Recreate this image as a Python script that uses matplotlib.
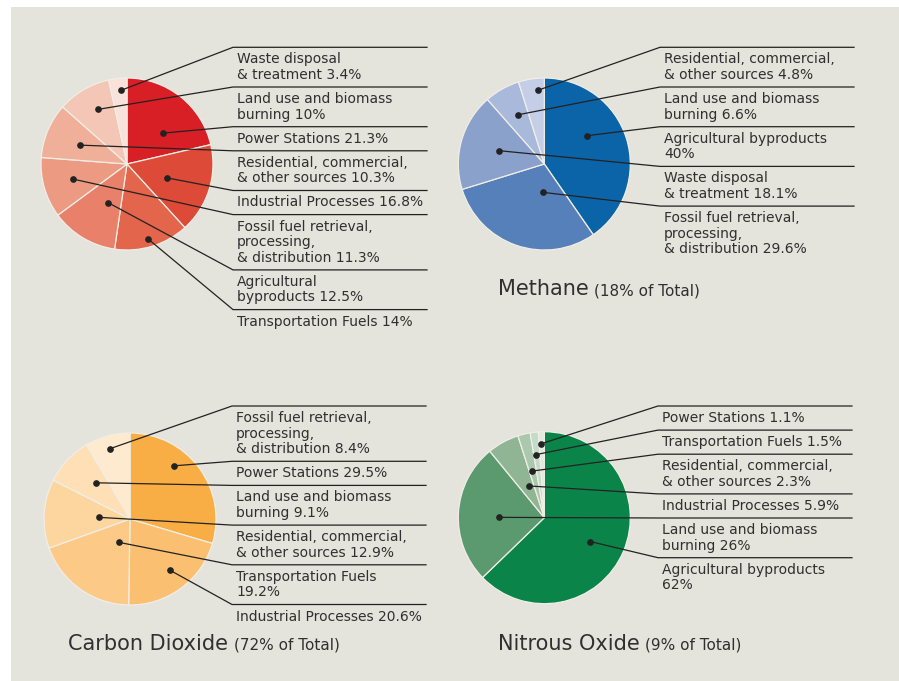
import numpy as np
import matplotlib
matplotlib.use("Agg")
import matplotlib.pyplot as plt

# 数据：每种气体的来源（按饼图顺时针顺序）和百分比
all_names = ["Power Stations", "Industrial Processes", "Transportation Fuels",
             "Agricultural\nbyproducts", "Fossil fuel retrieval,\nprocessing,\n& distribution",
             "Residential, commercial,\n& other sources", "Land use and biomass\nburning",
             "Waste disposal\n& treatment"]
all_values = [21.3, 16.8, 14, 12.5, 11.3, 10.3, 10, 3.4]
all_order = [7, 6, 0, 5, 1, 4, 3, 2]

ch4_names = ["Agricultural byproducts\n", "Fossil fuel retrieval,\nprocessing,\n& distribution",
             "Waste disposal\n& treatment", "Land use and biomass\nburning",
             "Residential, commercial,\n& other sources"]
ch4_values = [40, 29.6, 18.1, 6.6, 4.8]
ch4_order = [4, 3, 0, 2, 1]

co2_names = ["Power Stations", "Industrial Processes", "Transportation Fuels\n",
             "Residential, commercial,\n& other sources", "Land use and biomass\nburning",
             "Fossil fuel retrieval,\nprocessing,\n& distribution"]
co2_values = [29.5, 20.6, 19.2, 12.9, 9.1, 8.4]
co2_order = [5, 0, 4, 3, 2, 1]

n2o_names = ["Agricultural byproducts\n", "Land use and biomass\nburning", "Industrial Processes",
             "Residential, commercial,\n& other sources", "Transportation Fuels", "Power Stations"]
n2o_values = [62, 26, 5.9, 2.3, 1.5, 1.1]
n2o_order = [5, 4, 3, 2, 1, 0]

titles = [None, ("Methane", "(18% of Total)"), ("Carbon Dioxide", "(72% of Total)"),
          ("Nitrous Oxide", "(9% of Total)")]

# 颜色
reds = ["#d81f26", "#dd4a38", "#e3654b", "#e8806a", "#ec9a82", "#efaf98", "#f3c6b6", "#f8e2da"]
blues = ["#0b64a8", "#5580ba", "#8aa1cc", "#a8b9dc", "#c4cfe7"]
oranges = ["#f8ae45", "#fbbf72", "#fcca86", "#fdd59e", "#fedfb6", "#feeacf"]
greens = ["#0b844a", "#5b9a6f", "#8fb595", "#a9c8ad", "#c6dac8", "#e0eae1"]

# 布局（像素坐标）：圆心、文字x、线右端、第一条线y、圆点位置
panels = [
    dict(names=all_names, values=all_values, order=all_order, colors=reds,
         center=(127, 164), text_x=237, end_x=427, first_y=47.3,
         dot_t=[0.64, 0.53, 0.53, 0.40, 0.51, 0.47, 0.56, 0.63],
         dot_r=[0.55, 0.49, 0.90, 0.50, 0.65, 0.59, 0.72, 0.86]),
    dict(names=ch4_names, values=ch4_values, order=ch4_order, colors=blues,
         center=(544.3, 164), text_x=664, end_x=854, first_y=47.3,
         dot_t=[0.39, 0.35, 0.51, 0.54, 0.71],
         dot_r=[0.60, 0.33, 0.55, 0.65, 0.86]),
    dict(names=co2_names, values=co2_values, order=co2_order, colors=oranges,
         center=(130, 519), text_x=236, end_x=426, first_y=406,
         dot_t=[0.37, 0.48, 0.35, 0.49, 0.60, 0.48],
         dot_r=[0.80, 0.75, 0.30, 0.36, 0.58, 0.85]),
    dict(names=n2o_names, values=n2o_values, order=n2o_order, colors=greens,
         center=(544.3, 517.7), text_x=662, end_x=852, first_y=406,
         dot_t=[0.52, 0.47, 0.63, 0.42, 0.36, 0.37],
         dot_r=[0.60, 0.53, 0.41, 0.56, 0.74, 0.86]),
]
title_pos = [None, (497.7, 295), (68.3, 650), (497.7, 650)]

W, H = 899, 681
R = 86
BG = "#e4e3dc"
INK = "#303030"
LINE = "#222222"
FS = 10

fig = plt.figure(figsize=(W / 100, H / 100), dpi=100)
fig.patch.set_facecolor("white")
ax = fig.add_axes([0, 0, 1, 1])

for i, p in enumerate(panels):
    wedges, _ = ax.pie(p["values"], colors=p["colors"], center=p["center"], radius=R,
                       startangle=-90, counterclock=True,
                       wedgeprops=dict(edgecolor="#f1eee6", linewidth=0.9))
    for w in wedges:
        w.set_zorder(2)

    y = p["first_y"]
    for k in p["order"]:
        name = p["names"][k]
        label = name + ("" if name.endswith("\n") else " ") + f"{p['values'][k]:g}%"
        w = wedges[k]
        ang = np.deg2rad(w.theta1 + p["dot_t"][k] * (w.theta2 - w.theta1))
        dx = p["center"][0] + p["dot_r"][k] * R * np.cos(ang)
        dy = p["center"][1] + p["dot_r"][k] * R * np.sin(ang)
        jx = p["text_x"] - 4
        ax.plot([dx, jx, p["end_x"]], [dy, y, y], color=LINE, lw=0.9, zorder=4,
                solid_joinstyle="miter")
        ax.plot(dx, dy, "o", color=LINE, ms=3.8, zorder=5)
        lines = label.split("\n")
        for j, ln in enumerate(lines):
            ax.text(p["text_x"], y + 16 + 15.6 * j, ln, fontsize=FS, color=INK,
                    va="baseline", ha="left", zorder=6)
        y += 8.5 + 15.6 * len(lines)

    if titles[i] is not None:
        tx, ty = title_pos[i]
        main, sub = titles[i]
        t = ax.text(tx, ty, main, fontsize=15, color=INK, va="baseline", ha="left", zorder=6)
        ax.annotate(sub, xy=(1, ty), xycoords=(t, "data"), xytext=(4, 0),
                    textcoords="offset points", fontsize=11, color=INK,
                    va="baseline", ha="left", zorder=6)

# 灰色背景板
ax.add_patch(plt.Rectangle((11, 7), W - 11, H - 7, facecolor=BG, edgecolor="none", zorder=0))

ax.set_xlim(0, W)
ax.set_ylim(H, 0)
ax.set_aspect("auto")
ax.axis("off")

fig.savefig("out.png", dpi=100, facecolor=fig.get_facecolor())
